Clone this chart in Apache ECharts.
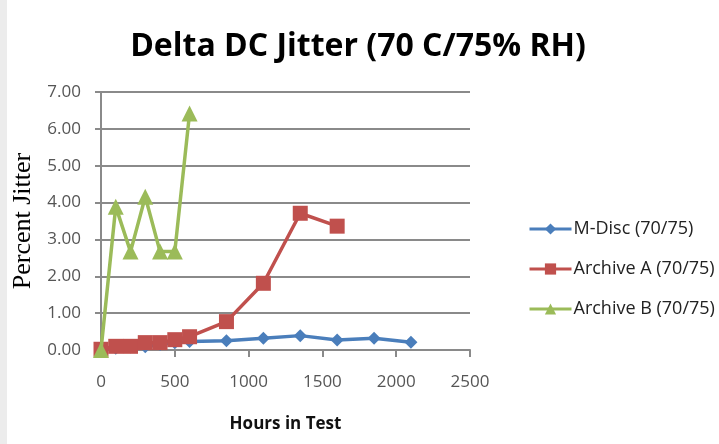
<!DOCTYPE html>
<html><head><meta charset="utf-8">
<script src="https://cdn.jsdelivr.net/npm/echarts@6/dist/echarts.min.js"></script>
<style>html,body{margin:0;padding:0;background:#fff}#c{width:719px;height:444px}</style>
</head><body><div id="c"></div>
<script>
const title = 'Delta DC Jitter (70 C/75% RH)';
const seriesNames = ['M-Disc (70/75)', 'Archive A (70/75)', 'Archive B (70/75)'];
const mDiscHours = [0, 100, 200, 300, 400, 500, 600, 850, 1100, 1350, 1600, 1850, 2100];
const mDiscValues = [0.00, 0.05, 0.08, 0.09, 0.15, 0.20, 0.23, 0.25, 0.32, 0.39, 0.27, 0.32, 0.21];
const archAHours = [0, 100, 200, 300, 400, 500, 600, 850, 1100, 1350, 1600];
const archAValues = [0.02, 0.10, 0.10, 0.20, 0.20, 0.28, 0.36, 0.77, 1.81, 3.71, 3.36];
const archBHours = [0, 100, 200, 300, 400, 500, 600];
const archBValues = [0.00, 3.89, 2.67, 4.16, 2.67, 2.67, 6.42];
const colors = ['#4A7EBB', '#C0504D', '#9BBB59'];

const zip = (xs, ys) => xs.map((x, i) => [x, ys[i]]);
const chart = echarts.init(document.getElementById('c'));
chart.setOption({
  backgroundColor: '#fff',
  animation: false,
  graphic: [{ type: 'rect', left: 0, top: 0, shape: { width: 7, height: 444 },
    style: { fill: '#ececec' }, silent: true }],
  title: { text: title, left: 353, textAlign: 'center', top: 26,
    textStyle: { fontFamily: 'Open Sans', fontWeight: 'bold', fontSize: 32, color: '#000' } },
  grid: { left: 101, right: 249, top: 92, bottom: 94, containLabel: false },
  legend: {
    orient: 'vertical', left: 523, top: 215, itemGap: 22, itemWidth: 42, itemHeight: 14,
    lineStyle: { width: 3 },
    textStyle: { fontFamily: 'Open Sans', fontSize: 18, color: '#222', padding: [0, 0, 0, -3] },
    data: seriesNames
  },
  xAxis: {
    type: 'value', min: 0, max: 2500, interval: 500,
    name: 'Hours in Test', nameLocation: 'middle', nameGap: 66,
    nameTextStyle: { fontFamily: 'Open Sans', fontWeight: 'bold', fontSize: 17, color: '#111' },
    axisLine: { lineStyle: { color: '#8a8a8a', width: 2 } },
    axisTick: { show: true, length: 7, lineStyle: { color: '#8a8a8a', width: 2 } },
    axisLabel: { fontFamily: 'Open Sans', fontSize: 17, color: '#555', margin: 24,
      formatter: v => String(v) },
    splitLine: { show: false }
  },
  yAxis: {
    type: 'value', min: 0, max: 7, interval: 1,
    name: 'Percent Jitter', nameLocation: 'middle', nameGap: 63,
    nameTextStyle: { fontFamily: 'Liberation Serif', fontSize: 26, color: '#000' },
    axisLine: { show: true, lineStyle: { color: '#8a8a8a', width: 2 } },
    axisTick: { show: true, length: 6, inside: false, lineStyle: { color: '#8a8a8a', width: 2 } },
    axisLabel: { fontFamily: 'Open Sans', fontSize: 17, color: '#555', margin: 20,
      formatter: v => v.toFixed(2) },
    splitLine: { lineStyle: { color: '#8a8a8a', width: 2 } }
  },
  series: [
    { name: seriesNames[0], type: 'line', data: zip(mDiscHours, mDiscValues),
      symbol: 'diamond', symbolSize: 13, z: 3,
      lineStyle: { color: colors[0], width: 3.5 }, itemStyle: { color: colors[0] } },
    { name: seriesNames[1], type: 'line', data: zip(archAHours, archAValues),
      symbol: 'rect', symbolSize: 15, z: 4,
      lineStyle: { color: colors[1], width: 3.5 }, itemStyle: { color: colors[1] } },
    { name: seriesNames[2], type: 'line', data: zip(archBHours, archBValues),
      symbol: 'triangle', symbolSize: 16, z: 5,
      lineStyle: { color: colors[2], width: 3.5 }, itemStyle: { color: colors[2] } }
  ]
});
</script></body></html>
